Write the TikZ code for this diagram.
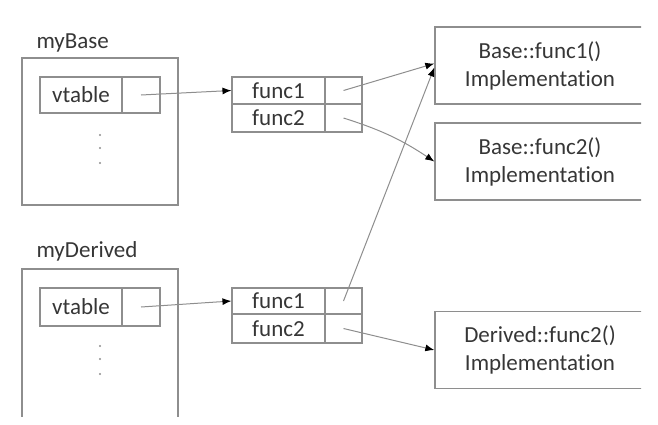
\documentclass[tikz,border=0pt]{standalone}
\usepackage{fontspec}
\setmainfont{Carlito}[Ligatures=NoCommon]
\usetikzlibrary{arrows.meta}
\definecolor{boxgray}{HTML}{8E8E8E}
\definecolor{inkgray}{HTML}{363636}
\tikzset{
  every node/.style={font=\fontsize{23}{28}\selectfont, text=inkgray},
  objbox/.style={draw=boxgray, line width=1.4pt, minimum width=156pt},
  cell/.style={draw=boxgray, line width=1.1pt, inner sep=0pt},
  implbox/.style={draw=boxgray, line width=1.4pt, minimum width=210pt, minimum height=77pt, align=center, inner sep=0pt},
  ptr/.style={draw=boxgray, line width=1pt, -{Latex[length=9pt,width=7pt,color=black]}}
}
\begin{document}
\begin{tikzpicture}[x=1pt,y=-1pt]
  \useasboundingbox (0,0) rectangle (658,424);
  \clip (0,0) rectangle (641,416);
  % objects
  \node[anchor=base west] (baseLbl) at (33,48) {myBase};
  \node[objbox, minimum height=147pt] (baseObj) at (100,131.5) {};
  \node[cell, minimum width=82pt, minimum height=36pt] (baseVt) at (81,95) {vtable};
  \node[cell, minimum width=38pt, minimum height=36pt] (baseVtPtr) at (141,95) {};
  \node[anchor=base west] (derLbl) at (33,257) {myDerived};
  \node[objbox, minimum height=160pt] (derObj) at (100,349) {};
  \node[cell, minimum width=82pt, minimum height=38pt] (derVt) at (81,307) {vtable};
  \node[cell, minimum width=38pt, minimum height=38pt] (derVtPtr) at (141,307) {};
  \foreach \y in {135,148,163} {
    \fill[boxgray] (100,\y) circle (1.1pt);
    \fill[boxgray] (100,\y+211) circle (1.1pt);
  }
  % vtables
  \node[cell, minimum width=93pt, minimum height=27pt] (baseF1) at (278.5,90.5) {func1};
  \node[cell, minimum width=37pt, minimum height=27pt] (baseP1) at (343.5,90.5) {};
  \node[cell, minimum width=93pt, minimum height=28pt] (baseF2) at (278.5,118) {func2};
  \node[cell, minimum width=37pt, minimum height=28pt] (baseP2) at (343.5,118) {};
  \node[cell, minimum width=93pt, minimum height=26pt] (derF1) at (278.5,301) {func1};
  \node[cell, minimum width=37pt, minimum height=26pt] (derP1) at (343.5,301) {};
  \node[cell, minimum width=93pt, minimum height=29pt] (derF2) at (278.5,328.5) {func2};
  \node[cell, minimum width=37pt, minimum height=29pt] (derP2) at (343.5,328.5) {};
  % implementations
  \node[implbox] (implBaseF1) at (540,65.5) {Base::func1()\\Implementation};
  \node[implbox] (implBaseF2) at (540,161.5) {Base::func2()\\Implementation};
  \node[implbox] (implDerF2) at (540,350) {Derived::func2()\\Implementation};
  % pointers
  \draw[ptr] (baseVtPtr.center) -- (baseF1.west);
  \draw[ptr] (derVtPtr.center) -- (derF1.west);
  \draw[ptr] (baseP1.center) -- ([yshift=2pt]implBaseF1.west);
  \draw[ptr] (baseP2.center) to[bend left=8] (implBaseF2.west);
  \draw[ptr] (derP1.center) -- ([yshift=-2pt]implBaseF1.west);
  \draw[ptr] (derP2.center) -- (implDerF2.west);
\end{tikzpicture}
\end{document}
